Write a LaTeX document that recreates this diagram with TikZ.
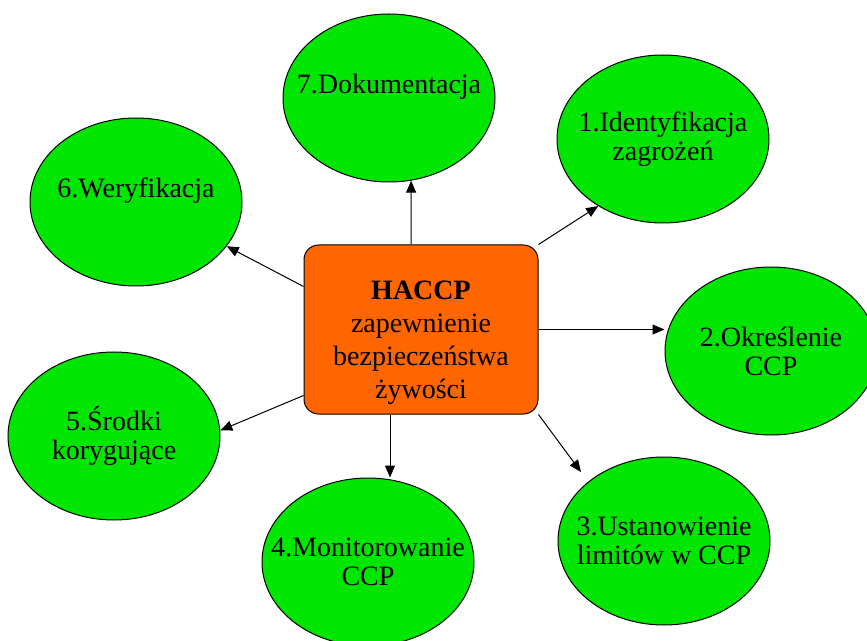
\documentclass[tikz,border=0pt]{standalone}
\usepackage{fontspec}
\setmainfont{Liberation Serif}
\usetikzlibrary{shapes.geometric,arrows.meta}
\definecolor{zielony}{RGB}{0,230,0}
\definecolor{pomarancz}{RGB}{255,102,0}
\tikzset{
  etap/.style={ellipse, draw, fill=zielony, line width=0.75pt,
    minimum width=159pt, minimum height=126pt, inner xsep=-60pt, inner ysep=0pt,
    align=center, font=\rmfamily\fontsize{21}{21.75}\selectfont},
  strzalka/.style={-{Triangle[length=9pt,width=7.5pt]}, line width=0.75pt}
}
\begin{document}
\begin{tikzpicture}[x=0.75pt, y=-0.75pt]
    \useasboundingbox (0,0) rectangle (867,641);
    \node[draw, fill=pomarancz, rounded corners=11pt, line width=0.75pt,
          minimum width=175.5pt, minimum height=126.75pt] (hub) at (421,329.5) {};
    \node[align=center, font=\rmfamily\fontsize{21}{24.75}\selectfont] (hubtekst) at (421,342.5)
          {\textbf{HACCP}\\zapewnienie\\bezpieczeństwa\\żywości};
    \node[etap] (c1) at (663,139) {1.Identyfikacja\\zagrożeń};
    \node[etap] (c2) at (771,351) {2.Określenie\\CCP};
    \node[etap] (c3) at (664,541) {3.Ustanowienie\\limitów w CCP};
    \node[etap] (c4) at (368,562) {4.Monitorowanie\\CCP};
    \node[etap] (c5) at (114,436) {5.Środki\\korygujące};
    \node[etap] (c6) at (136,202) {6.Weryfikacja\\\mbox{}};
    \node[etap] (c7) at (389,98) {7.Dokumentacja\\\mbox{}};
    \draw[strzalka] (hub.north east) -- (c1.226);
    \draw[strzalka] (hub.east) -- (hub.east -| c2.west);
    \draw[strzalka, shorten >=9pt] (hub.south east) -- (c3.142);
    \draw[strzalka] ([xshift=-23.25pt]hub.south) -- ([xshift=-23.25pt]hub.south |- c4.north);
    \draw[strzalka] ([yshift=14.25pt]hub.south west) -- (c5.3);
    \draw[strzalka] ([yshift=-31.5pt]hub.north west) -- (c6.-26);
    \draw[strzalka] ([xshift=-7.5pt]hub.north) -- (c7.-75);
\end{tikzpicture}
\end{document}
